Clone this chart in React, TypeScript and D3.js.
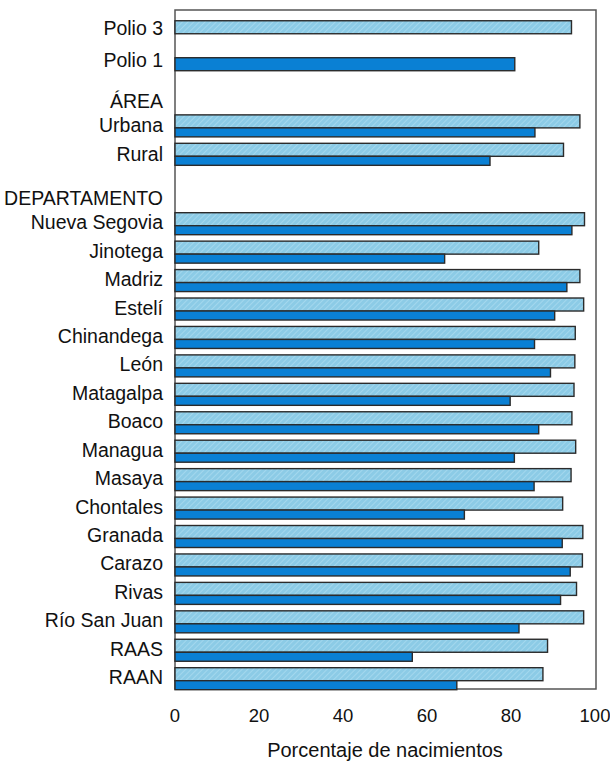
import React from "react";
import * as d3 from "d3";

const summaryLabels = ["Polio 3", "Polio 1"];
const summaryValues = [94.4, 80.9];

const areaHeader = "ÁREA";
const areaLabels = ["Urbana", "Rural"];
const areaPolio3 = [96.4, 92.5];
const areaPolio1 = [85.7, 75.0];

const deptHeader = "DEPARTAMENTO";
const deptLabels = [
  "Nueva Segovia", "Jinotega", "Madriz", "Estelí", "Chinandega", "León",
  "Matagalpa", "Boaco", "Managua", "Masaya", "Chontales", "Granada",
  "Carazo", "Rivas", "Río San Juan", "RAAS", "RAAN",
];
const deptPolio3 = [97.5, 86.6, 96.4, 97.3, 95.3, 95.2, 95.0, 94.5, 95.4, 94.3, 92.3, 97.1, 97.0, 95.6, 97.3, 88.7, 87.6];
const deptPolio1 = [94.5, 64.2, 93.3, 90.4, 85.6, 89.4, 79.8, 86.6, 80.8, 85.5, 68.9, 92.2, 94.1, 91.8, 81.9, 56.5, 67.1];

const xTicks = [0, 20, 40, 60, 80, 100];
const xTitle = "Porcentaje de nacimientos";

const LIGHT = "#8ccbe6";
const DARK = "#0a80d4";
const STROKE = "#2b2b2b";
const FONT = "'Liberation Sans', Arial, Helvetica, sans-serif";

export default function App() {
  const W = 610, H = 761;
  const frameTop = 10, frameBottom = 689;
  const x = d3.scaleLinear().domain([0, 100]).range([175, 595]);
  // slot scale: row slot -> top of the bar group
  const y = d3.scaleLinear().domain([0, deptLabels.length - 1]).range([212.7, 667.7]);
  const slots = { polio3: -6.75, polio1: -5.45, area: -3.44, dept: 0 };
  const hLight = 13, hDark = 9;
  const labelX = 163;
  const fs = 19.5;

  type Row = { label: string; top: number; lab: number; p3?: number; p1?: number };
  const rows: Row[] = [];
  rows.push({ label: summaryLabels[0], top: y(slots.polio3), lab: 14.3, p3: summaryValues[0] });
  rows.push({ label: summaryLabels[1], top: y(slots.polio1), lab: 9.5, p1: summaryValues[1] });
  areaLabels.forEach((l, i) => rows.push({ label: l, top: y(slots.area + i), lab: 17.5, p3: areaPolio3[i], p1: areaPolio1[i] }));
  deptLabels.forEach((l, i) => rows.push({ label: l, top: y(slots.dept + i), lab: 16.5, p3: deptPolio3[i], p1: deptPolio1[i] }));

  const headers = [
    { label: areaHeader, y: y(slots.area) - 6.7 },
    { label: deptHeader, y: y(slots.dept) - 7.7 },
  ];

  const x0 = x(0);

  return (
    <svg width={W} height={H} style={{ position: "absolute", left: 0, top: 0, background: "#fff" }}>
      <defs>
        <pattern id="hatch" patternUnits="userSpaceOnUse" width="4" height="4" patternTransform="rotate(45)">
          <rect width="4" height="4" fill={LIGHT} />
          <line x1="0" y1="0" x2="0" y2="4" stroke="#a9dbef" strokeWidth="1.6" />
        </pattern>
      </defs>
      <rect x={x0} y={frameTop} width={x(100) - x0 + 1} height={frameBottom - frameTop}
        fill="none" stroke="#555" strokeWidth={1.5} />
      {rows.map((r, i) => {
        const single = r.p3 === undefined || r.p1 === undefined;
        return (
          <g key={i}>
            {r.p3 !== undefined && (
              <rect x={x0} y={r.top} width={x(r.p3) - x0} height={hLight}
                fill="url(#hatch)" stroke={STROKE} strokeWidth={1.4} />
            )}
            {r.p1 !== undefined && (
              <rect x={x0} y={single ? r.top : r.top + hLight} width={x(r.p1) - x0}
                height={single ? hLight : hDark}
                fill={DARK} stroke={STROKE} strokeWidth={1.4} />
            )}
            <text x={labelX} y={r.top + r.lab} textAnchor="end" fontFamily={FONT}
              fontSize={fs} fill="#111">{r.label}</text>
          </g>
        );
      })}
      {headers.map((h, i) => (
        <text key={i} x={labelX} y={h.y} textAnchor="end" fontFamily={FONT} fontSize={fs} fill="#111">{h.label}</text>
      ))}
      {xTicks.map((t) => (
        <text key={t} x={x(t)} y={722} textAnchor="middle" fontFamily={FONT} fontSize={18.5} fill="#111">{t}</text>
      ))}
      <text x={(x(0) + x(100)) / 2} y={757} textAnchor="middle" fontFamily={FONT} fontSize={20} fill="#111">{xTitle}</text>
    </svg>
  );
}
